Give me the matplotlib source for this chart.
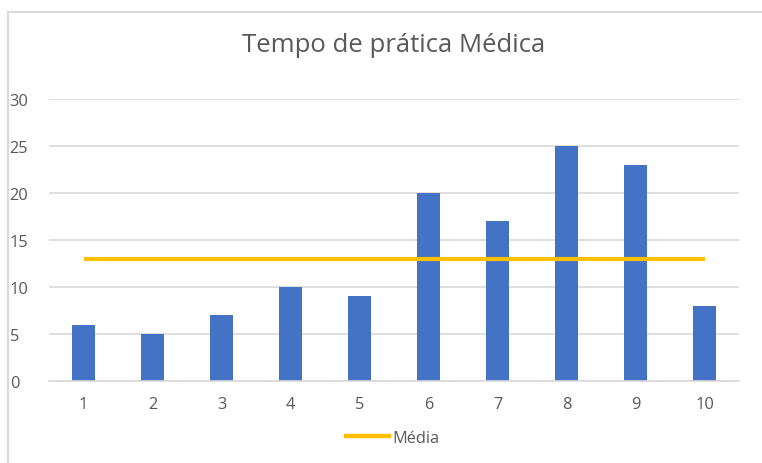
import matplotlib
matplotlib.use("Agg")
import matplotlib.pyplot as plt
from matplotlib.lines import Line2D

categories = ["1", "2", "3", "4", "5", "6", "7", "8", "9", "10"]
values = [6, 5, 7, 10, 9, 20, 17, 25, 23, 8]
media = [13] * 10
yticks = [0, 5, 10, 15, 20, 25, 30]

plt.rcParams['font.family'] = ['Open Sans', 'DejaVu Sans']

W, H = 762, 464
fig = plt.figure(figsize=(W / 100, H / 100), dpi=100)
fig.patch.set_facecolor('white')

# outer chart border (clipped at right and bottom)
fig.add_artist(Line2D([8 / W, 8 / W], [0, 1 - 13 / H], transform=fig.transFigure,
                      color='#D9D9D9', linewidth=1.5))
fig.add_artist(Line2D([8 / W, 1], [1 - 13 / H, 1 - 13 / H], transform=fig.transFigure,
                      color='#D9D9D9', linewidth=1.5))

ax = fig.add_axes([49 / W, 82 / H, (739 - 49) / W, (382 - 100) / H])
x = list(range(1, len(categories) + 1))
ax.bar(x, values, width=0.32, color='#4472C4', zorder=2)
ax.plot(x, media, color='#FFC000', linewidth=3, zorder=3, solid_capstyle='butt')

ax.set_xlim(0.5, len(categories) + 0.5)
ax.set_ylim(0, 30)
ax.set_yticks(yticks)
ax.set_xticks(x)
ax.set_xticklabels(categories)
ax.grid(axis='y', color='#D9D9D9', linewidth=1.2, zorder=0)
ax.set_axisbelow(True)
for s in ['top', 'right', 'left']:
    ax.spines[s].set_visible(False)
ax.spines['bottom'].set_color('#D9D9D9')
ax.spines['bottom'].set_linewidth(1.2)
ax.tick_params(axis='both', length=0, labelsize=11.8, colors='#595959')
ax.tick_params(axis='x', pad=11)
ax.yaxis.set_tick_params(pad=0)
for lbl in ax.get_yticklabels():
    lbl.set_horizontalalignment('left')
    lbl.set_transform(ax.get_yaxis_transform())
    lbl.set_x(-0.057)

fig.text(394 / W, 1 - 46 / H, "Tempo de prática Médica", ha='center', va='center',
         fontsize=18.5, color='#595959')

handle = Line2D([], [], color='#FFC000', linewidth=3.2)
fig.legend([handle], ["Média"], loc='center', bbox_to_anchor=(393 / W, 1 - 439 / H),
           frameon=False, fontsize=11.8, labelcolor='#595959', handlelength=2.6,
           handletextpad=0.25)

fig.savefig("out.png", dpi=100)
